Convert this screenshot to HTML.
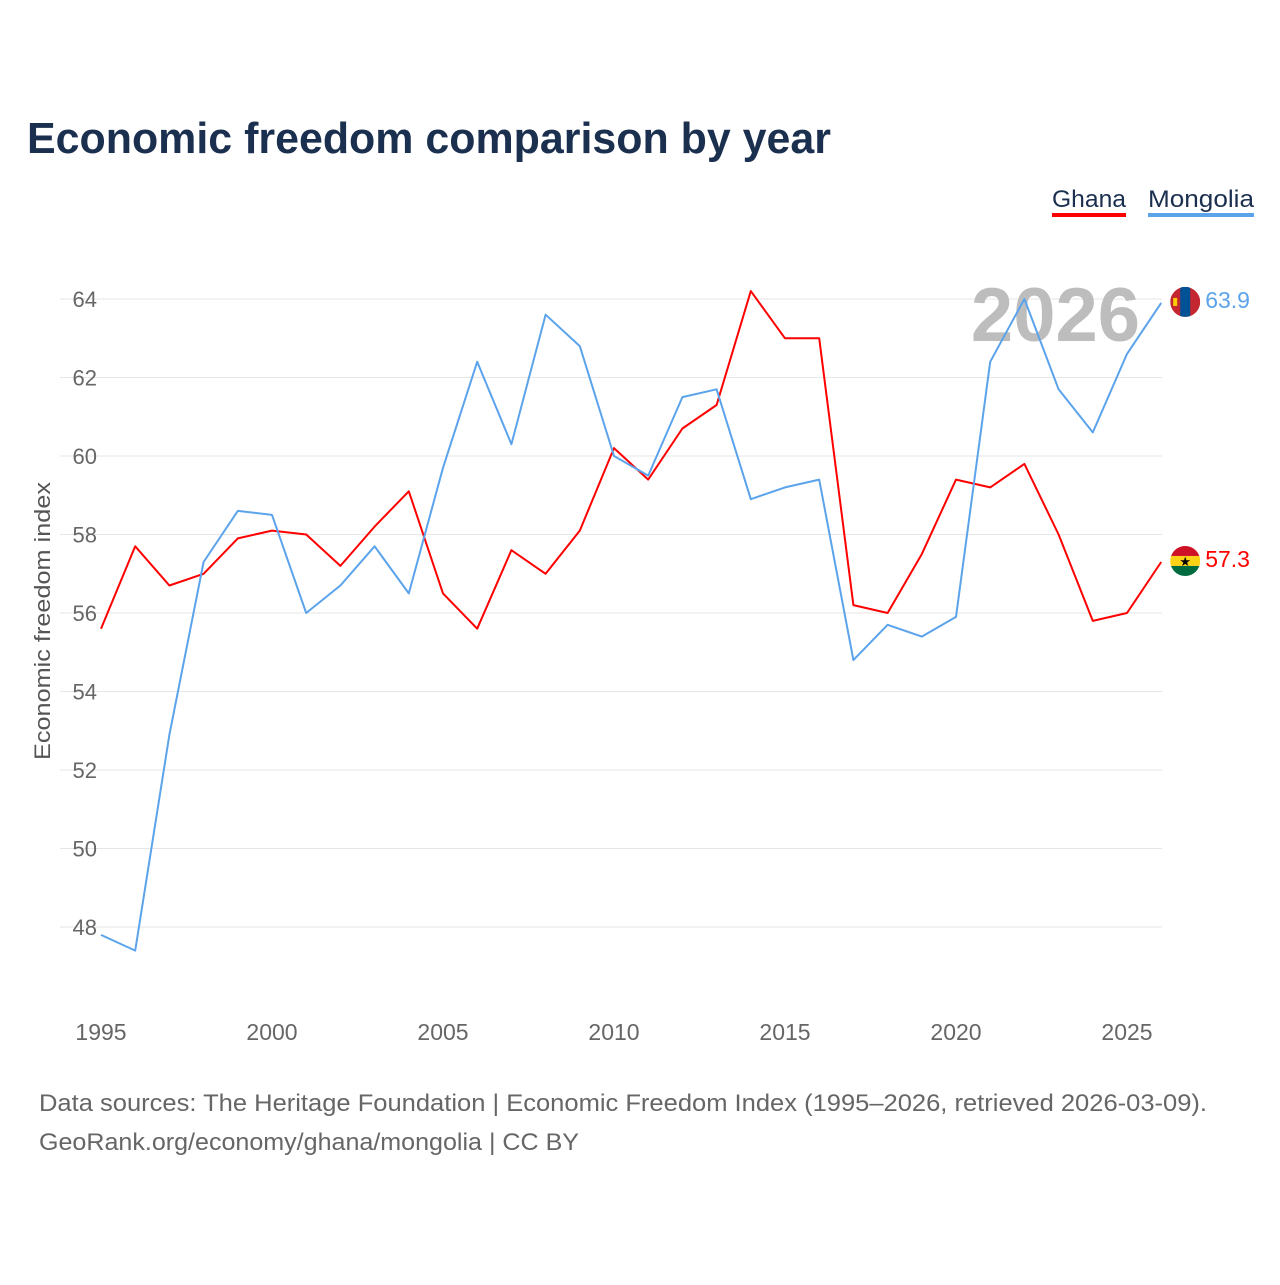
<!DOCTYPE html>
<html><head><meta charset="utf-8">
<style>
html,body{margin:0;padding:0;background:#fff;}
body{width:1280px;height:1280px;position:relative;overflow:hidden;font-family:"Liberation Sans",sans-serif;}
svg text{font-family:"Liberation Sans",sans-serif;}
</style></head>
<body>
<svg id="chart" width="1280" height="1280" xmlns="http://www.w3.org/2000/svg">
<text x="27" y="153" font-size="44" font-weight="bold" fill="#1b2f4f" textLength="804" lengthAdjust="spacingAndGlyphs">Economic freedom comparison by year</text>
<g>
<text x="1052" y="207" font-size="24" fill="#1b2f4f" textLength="74" lengthAdjust="spacingAndGlyphs">Ghana</text>
<rect x="1052" y="213" width="74" height="4" fill="#ff0000"/>
<text x="1148" y="207" font-size="24" fill="#1b2f4f" textLength="106" lengthAdjust="spacingAndGlyphs">Mongolia</text>
<rect x="1148" y="213" width="106" height="4" fill="#5ba3eb"/>
</g>
<g id="grid"></g>
<text x="1140" y="341" font-size="76" font-weight="bold" fill="#bdbdbd" text-anchor="end">2026</text>
<g id="series"></g>
<text transform="translate(50,621) rotate(-90)" font-size="22" fill="#555" text-anchor="middle" textLength="278" lengthAdjust="spacingAndGlyphs">Economic freedom index</text>
<text x="39" y="1111" font-size="24" fill="#666" textLength="1168" lengthAdjust="spacingAndGlyphs">Data sources: The Heritage Foundation | Economic Freedom Index (1995–2026, retrieved 2026-03-09).</text>
<text x="39" y="1150" font-size="24" fill="#666" textLength="540" lengthAdjust="spacingAndGlyphs">GeoRank.org/economy/ghana/mongolia | CC BY</text>
</svg>
<script>
const years=[];for(let y=1995;y<=2026;y++)years.push(y);
const ghana=[55.6,57.7,56.7,57.0,57.9,58.1,58.0,57.2,58.2,59.1,56.5,55.6,57.6,57.0,58.1,60.2,59.4,60.7,61.3,64.2,63.0,63.0,56.2,56.0,57.5,59.4,59.2,59.8,58.0,55.8,56.0,57.3];
const mongolia=[47.8,47.4,52.9,57.3,58.6,58.5,56.0,56.7,57.7,56.5,59.7,62.4,60.3,63.6,62.8,60.0,59.5,61.5,61.7,58.9,59.2,59.4,54.8,55.7,55.4,55.9,62.4,64.0,61.7,60.6,62.6,63.9];
const yTicks=[48,50,52,54,56,58,60,62,64];
const xTicks=[1995,2000,2005,2010,2015,2020,2025];
const NS="http://www.w3.org/2000/svg";
const xs=y=>101+(y-1995)*(1026/30);
const ys=v=>299+(64-v)*(628/16);
function mk(tag,attrs,parent){const e=document.createElementNS(NS,tag);for(const k in attrs)e.setAttribute(k,attrs[k]);parent.appendChild(e);return e;}
const grid=document.getElementById('grid');
yTicks.forEach(t=>{
  const l=mk('line',{x1:60,x2:1162,y1:ys(t),y2:ys(t),stroke:'#e6e6e6','stroke-width':1},grid);
  
  
  const tx=mk('text',{x:97,y:ys(t)+8,'font-size':22,fill:'#666','text-anchor':'end'},grid);
  tx.textContent=t;
  
  
});
xTicks.forEach(t=>{
  const tx=mk('text',{x:xs(t),y:1040,'font-size':23,fill:'#666','text-anchor':'middle'},grid);
  tx.textContent=t;
  
  
});
const series=document.getElementById('series');
function line(vals,color,name){
  const d=vals.map((v,i)=>(i?'L':'M')+xs(years[i]).toFixed(1)+' '+ys(v).toFixed(1)).join(' ');
  const p=mk('path',{d:d,fill:'none',stroke:color,'stroke-width':2,'stroke-linejoin':'round'},series);
  
  
  const last=vals[vals.length-1];
  const lx=xs(years[years.length-1]);
  const ly=ys(last);
  const t=mk('text',{x:lx+44,y:ly+5,'font-size':23,fill:color},series);
  t.textContent=last.toFixed(1);
  
  
  return {x:lx+24,y:ly-1};
}
const g=line(ghana,'#ff0000','ghana');
const m=line(mongolia,'#5ba3eb','mongolia');
const defs=mk('defs',{},series);
const c1=mk('clipPath',{id:'cm'},defs);mk('circle',{cx:m.x,cy:m.y,r:15},c1);
const c2=mk('clipPath',{id:'cg'},defs);mk('circle',{cx:g.x,cy:g.y,r:15},c2);
const fm=mk('g',{'clip-path':'url(#cm)'},series);


mk('rect',{x:m.x-15,y:m.y-15,width:30,height:30,fill:'#c4272f'},fm);
mk('rect',{x:m.x-5,y:m.y-15,width:10,height:30,fill:'#015197'},fm);
mk('rect',{x:m.x-12,y:m.y-4,width:4,height:8,fill:'#f9cf02'},fm);
const fg=mk('g',{'clip-path':'url(#cg)'},series);


mk('rect',{x:g.x-15,y:g.y-15,width:30,height:10,fill:'#ce1126'},fg);
mk('rect',{x:g.x-15,y:g.y-5,width:30,height:10,fill:'#fcd116'},fg);
mk('rect',{x:g.x-15,y:g.y+5,width:30,height:10,fill:'#006b3f'},fg);
const st=mk('text',{x:g.x,y:g.y+5,'font-size':13,fill:'#000','text-anchor':'middle'},fg);
st.textContent='★';
</script>
</body></html>
